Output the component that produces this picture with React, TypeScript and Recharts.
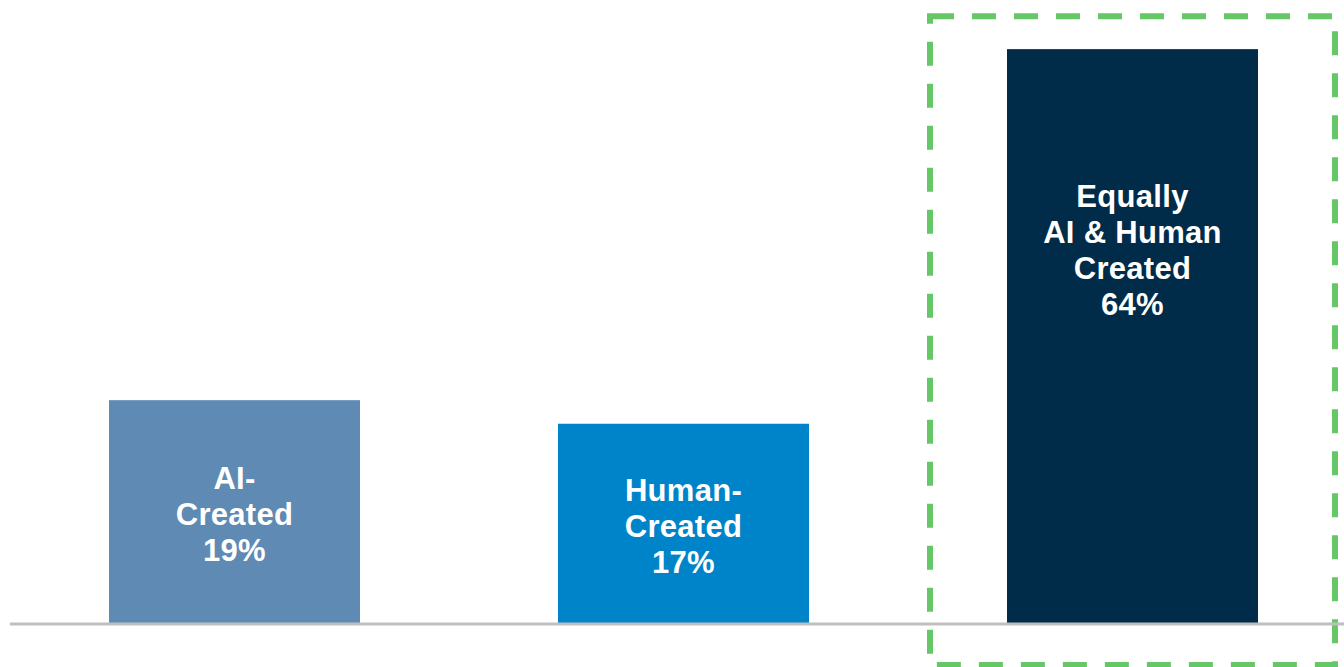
import { BarChart, Bar, XAxis, YAxis, ReferenceLine, LabelList } from 'recharts'

// categories and labels
const categories = ['AI-Created', 'Human-Created', 'Equally AI & Human Created']
const labelLines = [
  ['AI-', 'Created', '19%'],
  ['Human-', 'Created', '17%'],
  ['Equally', 'AI & Human', 'Created', '64%'],
]
// reported shares (%)
const shares = [19, 17, 64]
// bar heights as drawn in the picture (the 64% bar is not drawn to scale)
const drawnHeights = [19, 17, 48.8]
const barColors = ['#5E8AB4', '#0084C9', '#002B49']
const highlighted = [false, false, true]

const data = categories.map((name, i) => ({
  name,
  share: shares[i],
  height: drawnHeights[i],
  color: barColors[i],
  highlight: highlighted[i],
  lines: labelLines[i],
}))

const FONT = '"Liberation Sans", Arial, sans-serif'
const LINE_H = 36

// eslint-disable-next-line @typescript-eslint/no-explicit-any
const BarShape = (props: any) => {
  const { x, y, width, height, payload } = props
  return (
    <g>
      <rect x={x} y={y} width={width} height={height} fill={payload.color} />
      {payload.highlight && (
        <rect
          x={x - 77}
          y={y - 33}
          width={width + 154}
          height={height + 74}
          fill="none"
          stroke="#66C766"
          strokeWidth={6}
          strokeDasharray="24 18"
        />
      )}
    </g>
  )
}

// eslint-disable-next-line @typescript-eslint/no-explicit-any
const BarLabel = (props: any) => {
  const { x, y, width, height, index } = props
  const lines = data[index].lines
  const cx = x + width / 2
  const cy = y + Math.min(height / 2 + 2, 201)
  const startY = cy - ((lines.length - 1) * LINE_H) / 2
  return (
    <text
      x={cx}
      y={startY}
      textAnchor="middle"
      dominantBaseline="central"
      fill="#FFFFFF"
      fontFamily={FONT}
      fontWeight="bold"
      fontSize={31}
      letterSpacing={0.3}
    >
      {lines.map((l: string, i: number) => (
        <tspan key={i} x={cx} y={startY + i * LINE_H} dominantBaseline="central">
          {l}
        </tspan>
      ))}
    </text>
  )
}

export default function App() {
  return (
    <div style={{ position: 'absolute', left: 0, top: 0, width: 1344, height: 667, overflow: 'hidden', background: '#fff' }}>
      <BarChart
        width={1357}
        height={667}
        data={data}
        margin={{ top: 35, right: 0, bottom: 43, left: 10 }}
        barCategoryGap={0}
      >
        <XAxis dataKey="name" hide />
        <YAxis hide domain={[0, 50]} />
        <Bar dataKey="height" barSize={251} shape={BarShape} isAnimationActive={false}>
          <LabelList dataKey="share" content={BarLabel} />
        </Bar>
        <ReferenceLine y={0} stroke="#BFBFBF" strokeWidth={3} />
      </BarChart>
    </div>
  )
}
